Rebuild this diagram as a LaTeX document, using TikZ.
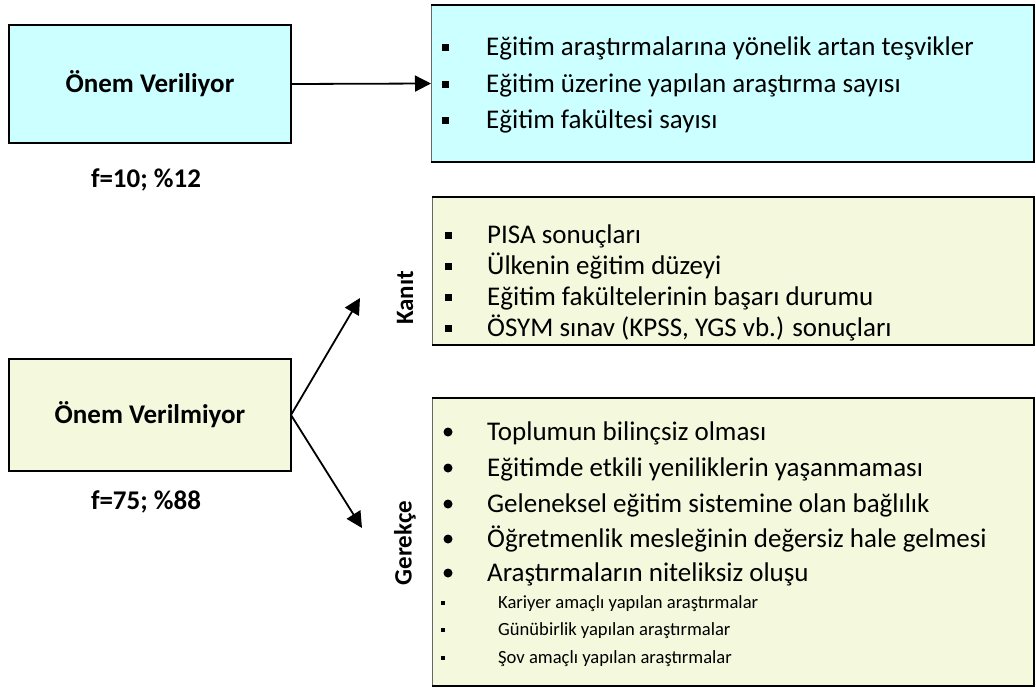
\documentclass[tikz,border=0pt]{standalone}
\usepackage{fontspec}
\setmainfont{Carlito}
\usetikzlibrary{arrows.meta}
\definecolor{cyanfill}{HTML}{CCFFFF}
\definecolor{yelfill}{RGB}{244,248,220}
\begin{document}
\begin{tikzpicture}[x=1pt,y=-1pt,
  box/.style={draw=black,line width=1.8pt,inner sep=0pt,outer sep=0pt},
  lbox/.style={inner sep=0pt,outer sep=0pt},
  edge/.style={draw=black,line width=1.8pt},
  thinedge/.style={draw=black!60,line width=0.9pt},
  lbl/.style={font=\fontsize{27}{30}\bfseries\selectfont},
  side/.style={font=\fontsize{25}{28}\bfseries\selectfont,rotate=90},
  item/.style={anchor=base west,inner sep=0pt,font=\fontsize{27}{30}\selectfont},
  subitem/.style={anchor=base west,inner sep=0pt,font=\fontsize{18.6}{21}\selectfont},
  sq/.style={fill=black,minimum size=7pt,inner sep=0pt},
  ssq/.style={fill=black,minimum size=3.5pt,inner sep=0pt},
  dot/.style={circle,fill=black,minimum size=9pt,inner sep=0pt},
  arr/.style={line width=1.8pt,-{Triangle[length=16pt,width=16pt]}}]
\useasboundingbox (0,0) rectangle (1036,688);

% left boxes
\node[box,fill=cyanfill,minimum width=282pt,minimum height=118pt,lbl] (ver) at (150,84) {Önem Veriliyor};
\node[lbl] (f1) at (146,180) {f=10; \%12};
\node[box,fill=yelfill,minimum width=282pt,minimum height=112pt,lbl] (nver) at (150,415) {Önem Verilmiyor};
\node[lbl] (f2) at (146,502) {f=75; \%88};

% right boxes (thin grey left edge, heavier top/right/bottom)
\node[lbox,fill=cyanfill,minimum width=603pt,minimum height=157pt] (onem) at (732.5,83.5) {};
\node[lbox,fill=yelfill,minimum width=602pt,minimum height=148pt] (kbox) at (733,271) {};
\node[lbox,fill=yelfill,minimum width=602pt,minimum height=288pt] (gbox) at (733,542) {};
\foreach \b in {onem,kbox,gbox}{
  \draw[thinedge] (\b.south west) -- (\b.north west);
  \draw[edge,line join=miter] (\b.north west) -- (\b.north east) -- (\b.south east) -- (\b.south west);
}

% box 1 items
\node[sq] (b11) at (445,47) {};
\node[item] (t11) at (486,55) {Eğitim araştırmalarına yönelik artan teşvikler};
\node[sq] (b12) at (445,84) {};
\node[item] (t12) at (486,92) {Eğitim üzerine yapılan araştırma sayısı};
\node[sq] (b13) at (445,120) {};
\node[item] (t13) at (486,128) {Eğitim fakültesi sayısı};

% Kanıt items
\node[sq] (k1) at (448,235) {};
\node[item] (kt1) at (487,243) {PISA sonuçları};
\node[sq] (k2) at (448,266) {};
\node[item] (kt2) at (487,274) {Ülkenin eğitim düzeyi};
\node[sq] (k3) at (448,297) {};
\node[item] (kt3) at (487,305) {Eğitim fakültelerinin başarı durumu};
\node[sq] (k4) at (448,328) {};
\node[item] (kt4) at (487,336) {ÖSYM sınav (KPSS, YGS vb.) sonuçları};

% Gerekçe items
\node[dot] (g1) at (448,432) {};
\node[item] (gt1) at (487,440) {Toplumun bilinçsiz olması};
\node[dot] (g2) at (448,468) {};
\node[item] (gt2) at (487,476) {Eğitimde etkili yeniliklerin yaşanmaması};
\node[dot] (g3) at (448,504) {};
\node[item] (gt3) at (487,512) {Geleneksel eğitim sistemine olan bağlılık};
\node[dot] (g4) at (448,539) {};
\node[item] (gt4) at (487,547) {Öğretmenlik mesleğinin değersiz hale gelmesi};
\node[dot] (g5) at (448,573) {};
\node[item] (gt5) at (487,581) {Araştırmaların niteliksiz oluşu};
\node[ssq] (s1) at (443,603) {};
\node[subitem] (st1) at (498,608) {Kariyer amaçlı yapılan araştırmalar};
\node[ssq] (s2) at (443,630) {};
\node[subitem] (st2) at (498,635) {Günübirlik yapılan araştırmalar};
\node[ssq] (s3) at (443,658) {};
\node[subitem] (st3) at (498,663) {Şov amaçlı yapılan araştırmalar};

% side labels
\node[side] (kanit) at (405,298) {Kanıt};
\node[side] (gerekce) at (405,543) {Gerekçe};

% arrows
\coordinate (kup) at (360,298);
\coordinate (gdn) at (362,528);
\draw[arr] (ver.east) -- (onem.west);
\draw[arr] (nver.east) -- (kup);
\draw[arr] (nver.east) -- (gdn);
\end{tikzpicture}
\end{document}
